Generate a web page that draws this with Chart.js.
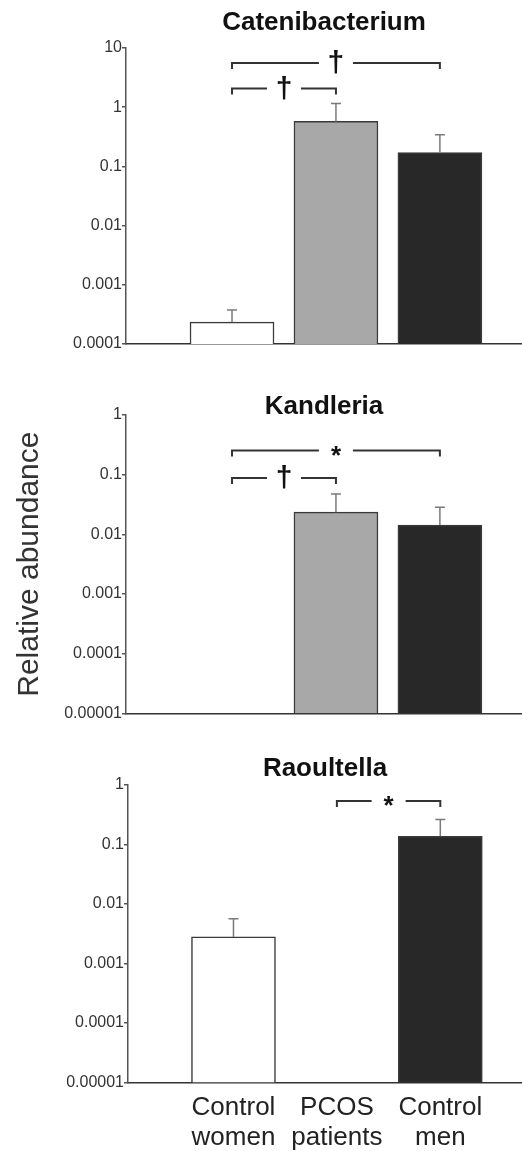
<!DOCTYPE html>
<html><head><meta charset="utf-8">
<script src="https://cdn.jsdelivr.net/npm/chart.js@4"></script>
<style>
html,body{margin:0;padding:0;background:#fff;overflow:hidden;width:522px;height:1151px;}
canvas{position:absolute;left:0;}
</style></head><body>
<canvas id="c1" width="522" height="360" style="top:0px"></canvas>
<canvas id="c2" width="522" height="370" style="top:360px"></canvas>
<canvas id="c3" width="522" height="451" style="top:720px"></canvas>
<script>
// ---- data ----
const categories = [['Control', 'women'], ['PCOS', 'patients'], ['Control', 'men']];
const barColors = ['#ffffff', '#a8a8a8', '#282828'];

const cateniTitle = 'Catenibacterium';
const cateniMeans = [0.000234, 0.575, 0.171];
const cateniErrTop = [0.000376, 1.15, 0.344];
const cateniTicks = [0.0001, 0.001, 0.01, 0.1, 1, 10];
const cateniTickLabels = ['0.0001', '0.001', '0.01', '0.1', '1', '10'];
const cateniBrackets = [
  { from: 0, to: 2, at: 5.6, mark: '†' },
  { from: 0, to: 1, at: 2.06, mark: '†' }
];

const kandTitle = 'Kandleria';
const kandMeans = [null, 0.0235, 0.0143];
const kandErrTop = [null, 0.0475, 0.0285];
const kandTicks = [0.00001, 0.0001, 0.001, 0.01, 0.1, 1];
const kandTickLabels = ['0.00001', '0.0001', '0.001', '0.01', '0.1', '1'];
const kandBrackets = [
  { from: 0, to: 2, at: 0.254, mark: '*' },
  { from: 0, to: 1, at: 0.0877, mark: '†' }
];

const raoTitle = 'Raoultella';
const raoMeans = [0.00279, null, 0.136];
const raoErrTop = [0.0056, null, 0.261];
const raoTicks = [0.00001, 0.0001, 0.001, 0.01, 0.1, 1];
const raoTickLabels = ['0.00001', '0.0001', '0.001', '0.01', '0.1', '1'];
const raoBrackets = [
  { from: 1, to: 2, at: 0.535, mark: '*' }
];

const yAxisTitle = 'Relative abundance';

// ---- rendering ----
Chart.defaults.font.family = "'Liberation Sans', Arial, Helvetica, sans-serif";

const sigPlugin = {
  id: 'sig',
  afterDatasetsDraw(chart, args, opts) {
    const ctx = chart.ctx, x = chart.scales.x, y = chart.scales.y;
    ctx.save();
    ctx.strokeStyle = '#7a7a7a';
    ctx.lineWidth = 1.5;
    opts.means.forEach((m, i) => {
      const e = opts.errTop[i];
      if (m == null || e == null) return;
      const px = x.getPixelForValue(i), y0 = y.getPixelForValue(m), y1 = y.getPixelForValue(e);
      ctx.beginPath();
      ctx.moveTo(px, y0); ctx.lineTo(px, y1);
      ctx.moveTo(px - 5, y1); ctx.lineTo(px + 5, y1);
      ctx.stroke();
    });
    ctx.strokeStyle = '#333';
    ctx.lineWidth = 2;
    ctx.fillStyle = '#111';
    opts.brackets.forEach(b => {
      const x1 = x.getPixelForValue(b.from), x2 = x.getPixelForValue(b.to);
      const yy = y.getPixelForValue(b.at), mid = (x1 + x2) / 2, g = 17;
      ctx.beginPath();
      ctx.moveTo(x1, yy + 6); ctx.lineTo(x1, yy); ctx.lineTo(mid - g, yy);
      ctx.moveTo(mid + g, yy); ctx.lineTo(x2, yy); ctx.lineTo(x2, yy + 6);
      ctx.stroke();
      ctx.textAlign = 'center';
      ctx.textBaseline = 'middle';
      if (b.mark === '*') {
        ctx.font = "bold 26px 'Liberation Sans', Arial, sans-serif";
        ctx.fillText(b.mark, mid, yy + 6);
      } else {
        ctx.font = "bold 30px 'Liberation Sans', Arial, sans-serif";
        ctx.fillText(b.mark, mid, yy + 1);
      }
    });
    ctx.restore();
  }
};

function makeChart(id, p) {
  return new Chart(document.getElementById(id), {
    type: 'bar',
    data: {
      datasets: [{
        data: p.means.map((v, i) => ({ x: i, y: v })).filter(d => d.y !== null),
        backgroundColor: c => barColors[c.raw ? c.raw.x : 0],
        borderColor: '#3a3a3a',
        borderWidth: 1.5,
        barThickness: 84
      }]
    },
    plugins: [sigPlugin],
    options: {
      responsive: false,
      animation: false,
      layout: { padding: { top: 0, left: 0, right: 0, bottom: p.padBottom } },
      plugins: {
        legend: { display: false },
        tooltip: { enabled: false },
        title: {
          display: true, text: p.title, fullSize: false, color: '#111',
          font: { size: 26, weight: 'bold', lineHeight: 0.6 },
          padding: { top: p.titleTop, bottom: p.titleBottom }
        },
        sig: { means: p.means, errTop: p.errTop, brackets: p.brackets }
      },
      scales: {
        x: {
          type: 'linear', min: -1.02, max: 2.79, offset: false,
          afterBuildTicks: s => { s.ticks = categories.map((c, i) => ({ value: i })); },
          grid: { display: false, drawTicks: false },
          border: { display: true, color: '#333', width: 1.5 },
          ticks: {
            display: p.showX, autoSkip: false, maxRotation: 0, minRotation: 0,
            padding: 10.7, color: '#222', font: { size: 26, lineHeight: 1.154 },
            callback: v => categories[v]
          }
        },
        y: {
          type: 'logarithmic', min: p.ticks[0], max: p.ticks[p.ticks.length - 1],
          afterBuildTicks: s => { s.ticks = p.ticks.map(v => ({ value: v })); },
          afterFit: s => { s.width = p.yWidth; },
          grid: { display: true, drawOnChartArea: false, drawTicks: true, tickLength: 4, color: '#555', lineWidth: 1.5 },
          border: { display: true, color: '#555', width: 1.5 },
          ticks: { padding: 0, color: '#333', font: { size: 16 }, autoSkip: false, callback: (v, i) => p.tickLabels[i] },
          title: p.yTitle ? {
            display: true, text: p.yTitle, color: '#333',
            font: { size: 30, lineHeight: 1.2 }, padding: { top: 12, bottom: 0 }
          } : { display: false }
        }
      }
    }
  });
}

makeChart('c1', {
  title: cateniTitle, means: cateniMeans, errTop: cateniErrTop, brackets: cateniBrackets,
  ticks: cateniTicks, tickLabels: cateniTickLabels,
  titleTop: 15.2, titleBottom: 17.2, padBottom: 16, yWidth: 126, showX: false
});
makeChart('c2', {
  title: kandTitle, means: kandMeans, errTop: kandErrTop, brackets: kandBrackets,
  ticks: kandTicks, tickLabels: kandTickLabels, yTitle: yAxisTitle,
  titleTop: 39.4, titleBottom: 0, padBottom: 16.7, yWidth: 126, showX: false
});
makeChart('c3', {
  title: raoTitle, means: raoMeans, errTop: raoErrTop, brackets: raoBrackets,
  ticks: raoTicks, tickLabels: raoTickLabels,
  titleTop: 40.9, titleBottom: 8.2, padBottom: 7, yWidth: 128, showX: true
});
</script>
</body></html>
